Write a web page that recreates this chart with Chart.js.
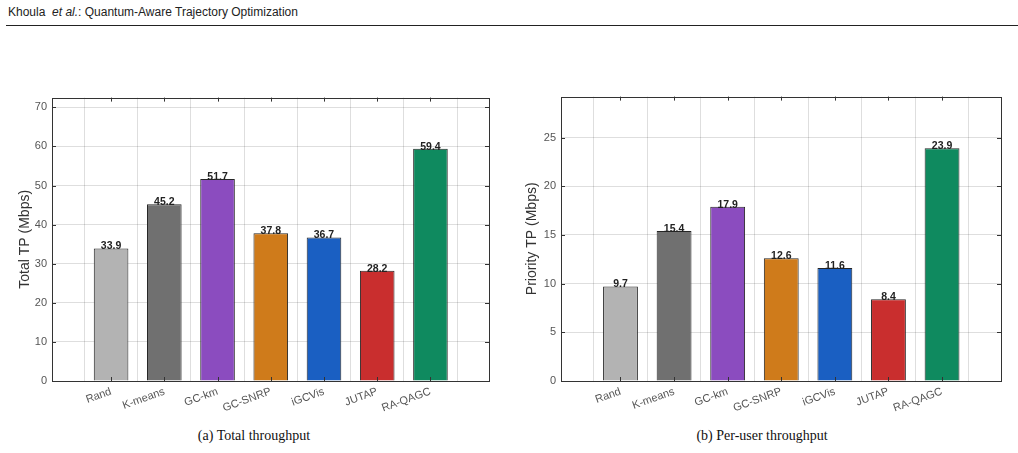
<!DOCTYPE html>
<html>
<head>
<meta charset="utf-8">
<script src="https://cdn.jsdelivr.net/npm/chart.js@4"></script>
<style>
  body { margin: 0; background: #fff; width: 1018px; height: 453px; position: relative; overflow: hidden; }
  #header { position: absolute; left: 8px; top: 5px; font: 12px "Liberation Sans", Arial, sans-serif; color: #222; }
  #rule { position: absolute; left: 6px; right: 0; top: 25px; border-top: 1px solid #222; }
  .box { position: absolute; width: 500px; }
  .caption { position: absolute; top: 428px; font: 14px "Liberation Serif", "Times New Roman", serif; color: #111; text-align: center; width: 300px; }
</style>
</head>
<body>
<div id="header">Khoula&nbsp; <i>et al.</i>: Quantum-Aware Trajectory Optimization</div>
<div id="rule"></div>
<div class="box" style="left:0; top:86px"><canvas id="totalChart" width="500" height="334"></canvas></div>
<div class="box" style="left:510px; top:85px"><canvas id="userChart" width="500" height="335"></canvas></div>
<div class="caption" style="left:104px">(a) Total throughput</div>
<div class="caption" style="left:612px">(b) Per-user throughput</div>
<script>
// Data.
const methods = ['Rand', 'K-means', 'GC-km', 'GC-SNRP', 'iGCVis', 'JUTAP', 'RA-QAGC'];
const totalTP = [33.9, 45.2, 51.7, 37.8, 36.7, 28.2, 59.4];
const priorityTP = [9.7, 15.4, 17.9, 12.6, 11.6, 8.4, 23.9];
const totalTicks = [0, 10, 20, 30, 40, 50, 60, 70];
const priorityTicks = [0, 5, 10, 15, 20, 25];
const barColors = ['#b3b3b3', '#707070', '#8b4cbf', '#cf7b1b', '#1a5fc2', '#c92e2e', '#0f8a5f'];

const tickFont = {family: '"Liberation Sans", Arial, sans-serif', size: 11};
const tickColor = '#555';

// Draws the boxed axes with inward ticks, and the value labels.
const boxPlugin = {
  id: 'box',
  afterDraw(chart) {
    const ctx = chart.ctx;
    const a = chart.chartArea;
    const xs = chart.scales.x;
    const ys = chart.scales.y;
    ctx.save();
    ctx.strokeStyle = '#333';
    ctx.lineWidth = 1;
    ctx.strokeRect(Math.round(a.left) + 0.5, Math.round(a.top) + 0.5,
      Math.round(a.right - a.left), Math.round(a.bottom - a.top));
    ctx.beginPath();
    xs.ticks.forEach((t) => {
      const px = Math.round(xs.getPixelForValue(t.value)) + 0.5;
      ctx.moveTo(px, a.bottom); ctx.lineTo(px, a.bottom - 4);
      ctx.moveTo(px, a.top); ctx.lineTo(px, a.top + 4);
    });
    ys.ticks.forEach((t) => {
      const py = Math.round(ys.getPixelForValue(t.value)) + 0.5;
      ctx.moveTo(a.left, py); ctx.lineTo(a.left + 4, py);
      ctx.moveTo(a.right, py); ctx.lineTo(a.right - 4, py);
    });
    ctx.stroke();
    const meta = chart.getDatasetMeta(0);
    const values = chart.data.datasets[0].data;
    ctx.fillStyle = '#222';
    ctx.font = 'bold 10.5px "Liberation Sans", Arial, sans-serif';
    ctx.textAlign = 'center';
    ctx.textBaseline = 'middle';
    meta.data.forEach((bar, i) => {
      ctx.fillText(values[i].y.toFixed(1), bar.x, bar.y - 2);
    });
    ctx.restore();
  },
};

function makeChart(id, values, yTicks, yMax, yTitle, axisWidth, titlePad, pad) {
  const ctx = document.getElementById(id).getContext('2d');
  return new Chart(ctx, {
    type: 'bar',
    data: {
      datasets: [{
        data: values.map((v, i) => ({x: i + 1, y: v})),
        backgroundColor: barColors,
        borderColor: '#262626',
        borderWidth: 1,
        barPercentage: 0.65,
        categoryPercentage: 1,
      }],
    },
    options: {
      responsive: false,
      animation: false,
      events: [],
      layout: {padding: pad},
      plugins: {legend: {display: false}, tooltip: {enabled: false}},
      scales: {
        x: {
          type: 'linear',
          offset: false,
          min: -0.11,
          max: 8.1,
          afterBuildTicks: (s) => { s.ticks = methods.map((m, i) => ({value: i + 1})); },
          afterFit: (s) => { s.height = 39; },
          border: {display: false},
          grid: {color: 'rgba(0,0,0,0.13)', drawTicks: false},
          ticks: {
            callback: (v) => methods[v - 1] || '',
            font: tickFont,
            color: tickColor,
            minRotation: 20,
            maxRotation: 20,
            autoSkip: false,
            padding: 4,
          },
        },
        y: {
          min: 0,
          max: yMax,
          afterBuildTicks: (s) => { s.ticks = yTicks.map((v) => ({value: v})); },
          afterFit: (s) => { s.width = axisWidth; },
          border: {display: false},
          grid: {color: 'rgba(0,0,0,0.13)', drawTicks: false},
          ticks: {font: tickFont, color: tickColor, padding: 5},
          title: {
            display: true,
            text: yTitle,
            font: {family: '"Liberation Sans", Arial, sans-serif', size: 14},
            color: '#333',
            padding: {top: titlePad, bottom: 0},
          },
        },
      },
    },
    plugins: [boxPlugin],
  });
}

makeChart('totalChart', totalTP, totalTicks, 72.5, 'Total TP (Mbps)', 52, 17,
  {left: 0, right: 11, top: 0, bottom: 0});
makeChart('userChart', priorityTP, priorityTicks, 29.2, 'Priority TP (Mbps)', 51, 14,
  {left: 0, right: 9, top: 0, bottom: 0});
</script>
</body>
</html>
